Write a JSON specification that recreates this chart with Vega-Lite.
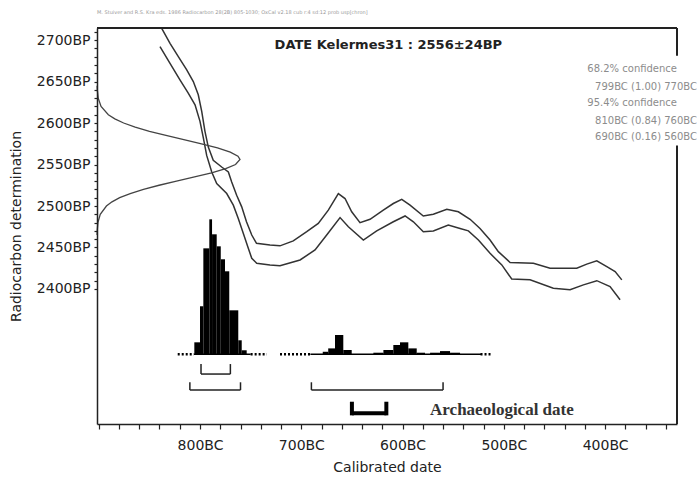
{
  "$schema": "https://vega.github.io/schema/vega-lite/v6.json",
  "width": 580,
  "height": 396,
  "autosize": {"type": "none"},
  "padding": {"left": 97, "top": 28, "right": 23, "bottom": 54},
  "background": "white",
  "title": {
    "text": "M. Stuiver and R.S. Kra eds. 1986 Radiocarbon 28(2B) 805-1030; OxCal v2.18 cub r:4 sd:12 prob usp[chron]",
    "anchor": "start",
    "frame": "group",
    "fontSize": 5,
    "fontWeight": "normal",
    "color": "#9a9a9a",
    "offset": 10
  },
  "config": {
    "view": {"stroke": null},
    "font": "DejaVu Sans",
    "axis": {
      "grid": false,
      "zindex": 1,
      "domainColor": "#222",
      "domainWidth": 1.5,
      "tickColor": "#222",
      "tickWidth": 1.2,
      "labelFontSize": 14,
      "labelColor": "#222",
      "labelFlush": false,
      "labelOverlap": false,
      "titleFontSize": 14,
      "titleFontWeight": "normal",
      "titleColor": "#222"
    }
  },
  "datasets": {
    "curve": [
      {"bound": "upper", "bc": 837.8, "bp": 2714}, {"bound": "upper", "bc": 829.6, "bp": 2696}, {"bound": "upper", "bc": 821.4, "bp": 2680},
      {"bound": "upper", "bc": 813.1, "bp": 2664}, {"bound": "upper", "bc": 806.6, "bp": 2650}, {"bound": "upper", "bc": 801.7, "bp": 2634},
      {"bound": "upper", "bc": 798.3, "bp": 2614}, {"bound": "upper", "bc": 795.1, "bp": 2590}, {"bound": "upper", "bc": 791.8, "bp": 2571},
      {"bound": "upper", "bc": 786.9, "bp": 2555}, {"bound": "upper", "bc": 778.6, "bp": 2547}, {"bound": "upper", "bc": 772.0, "bp": 2541},
      {"bound": "upper", "bc": 768.7, "bp": 2529}, {"bound": "upper", "bc": 763.8, "bp": 2513}, {"bound": "upper", "bc": 758.8, "bp": 2499},
      {"bound": "upper", "bc": 754.1, "bp": 2481}, {"bound": "upper", "bc": 748.9, "bp": 2465}, {"bound": "upper", "bc": 744.2, "bp": 2455},
      {"bound": "upper", "bc": 730.9, "bp": 2453}, {"bound": "upper", "bc": 721.0, "bp": 2452}, {"bound": "upper", "bc": 707.9, "bp": 2458},
      {"bound": "upper", "bc": 694.6, "bp": 2469}, {"bound": "upper", "bc": 683.2, "bp": 2479}, {"bound": "upper", "bc": 673.3, "bp": 2495},
      {"bound": "upper", "bc": 663.4, "bp": 2515}, {"bound": "upper", "bc": 656.8, "bp": 2509}, {"bound": "upper", "bc": 650.2, "bp": 2493},
      {"bound": "upper", "bc": 642.0, "bp": 2480}, {"bound": "upper", "bc": 632.1, "bp": 2484}, {"bound": "upper", "bc": 619.0, "bp": 2495},
      {"bound": "upper", "bc": 609.1, "bp": 2503}, {"bound": "upper", "bc": 600.8, "bp": 2508}, {"bound": "upper", "bc": 592.6, "bp": 2501},
      {"bound": "upper", "bc": 579.5, "bp": 2488}, {"bound": "upper", "bc": 569.6, "bp": 2490}, {"bound": "upper", "bc": 556.3, "bp": 2496},
      {"bound": "upper", "bc": 544.9, "bp": 2493}, {"bound": "upper", "bc": 533.3, "bp": 2484}, {"bound": "upper", "bc": 523.5, "bp": 2473},
      {"bound": "upper", "bc": 513.6, "bp": 2459}, {"bound": "upper", "bc": 505.4, "bp": 2445}, {"bound": "upper", "bc": 493.8, "bp": 2432},
      {"bound": "upper", "bc": 470.8, "bp": 2431}, {"bound": "upper", "bc": 454.3, "bp": 2425}, {"bound": "upper", "bc": 428.0, "bp": 2425},
      {"bound": "upper", "bc": 418.1, "bp": 2430}, {"bound": "upper", "bc": 408.2, "bp": 2434}, {"bound": "upper", "bc": 398.3, "bp": 2427},
      {"bound": "upper", "bc": 390.1, "bp": 2421}, {"bound": "upper", "bc": 383.5, "bp": 2411},
      {"bound": "lower", "bc": 839.5, "bp": 2692}, {"bound": "lower", "bc": 829.6, "bp": 2672}, {"bound": "lower", "bc": 819.8, "bp": 2652},
      {"bound": "lower", "bc": 811.6, "bp": 2636}, {"bound": "lower", "bc": 804.9, "bp": 2622}, {"bound": "lower", "bc": 800.0, "bp": 2602},
      {"bound": "lower", "bc": 796.7, "bp": 2582}, {"bound": "lower", "bc": 793.4, "bp": 2561}, {"bound": "lower", "bc": 788.4, "bp": 2541},
      {"bound": "lower", "bc": 783.5, "bp": 2527}, {"bound": "lower", "bc": 773.6, "bp": 2515}, {"bound": "lower", "bc": 767.1, "bp": 2501},
      {"bound": "lower", "bc": 762.2, "bp": 2485}, {"bound": "lower", "bc": 757.2, "bp": 2467}, {"bound": "lower", "bc": 752.3, "bp": 2449},
      {"bound": "lower", "bc": 748.9, "bp": 2437}, {"bound": "lower", "bc": 744.0, "bp": 2431}, {"bound": "lower", "bc": 730.9, "bp": 2429},
      {"bound": "lower", "bc": 721.0, "bp": 2428}, {"bound": "lower", "bc": 701.2, "bp": 2435}, {"bound": "lower", "bc": 686.4, "bp": 2447},
      {"bound": "lower", "bc": 674.9, "bp": 2465}, {"bound": "lower", "bc": 661.7, "bp": 2486}, {"bound": "lower", "bc": 653.5, "bp": 2475},
      {"bound": "lower", "bc": 638.7, "bp": 2459}, {"bound": "lower", "bc": 625.5, "bp": 2470}, {"bound": "lower", "bc": 609.1, "bp": 2481},
      {"bound": "lower", "bc": 597.5, "bp": 2488}, {"bound": "lower", "bc": 589.3, "bp": 2481}, {"bound": "lower", "bc": 579.5, "bp": 2469},
      {"bound": "lower", "bc": 569.6, "bp": 2470}, {"bound": "lower", "bc": 554.8, "bp": 2477}, {"bound": "lower", "bc": 543.2, "bp": 2473},
      {"bound": "lower", "bc": 535.0, "bp": 2470}, {"bound": "lower", "bc": 525.1, "bp": 2459}, {"bound": "lower", "bc": 513.6, "bp": 2443},
      {"bound": "lower", "bc": 502.0, "bp": 2429}, {"bound": "lower", "bc": 492.2, "bp": 2412}, {"bound": "lower", "bc": 474.1, "bp": 2411},
      {"bound": "lower", "bc": 451.1, "bp": 2401}, {"bound": "lower", "bc": 434.6, "bp": 2399}, {"bound": "lower", "bc": 421.4, "bp": 2405},
      {"bound": "lower", "bc": 408.2, "bp": 2410}, {"bound": "lower", "bc": 395.1, "bp": 2403}, {"bound": "lower", "bc": 385.2, "bp": 2387}
    ],
    "measurement": [
      {"bp": 2645, "bc": 901.6}, {"bp": 2640, "bc": 901.4}, {"bp": 2630, "bc": 900.5}, {"bp": 2620, "bc": 897.7},
      {"bp": 2610, "bc": 890.5}, {"bp": 2605, "bc": 884.1}, {"bp": 2600, "bc": 875.4}, {"bp": 2595, "bc": 864.0},
      {"bp": 2590, "bc": 849.9}, {"bp": 2585, "bc": 833.6}, {"bp": 2580, "bc": 816.0}, {"bp": 2575, "bc": 798.5},
      {"bp": 2570, "bc": 782.7}, {"bp": 2565, "bc": 770.1}, {"bp": 2560, "bc": 762.5}, {"bp": 2556, "bc": 760.5},
      {"bp": 2550, "bc": 764.9}, {"bp": 2545, "bc": 774.6}, {"bp": 2540, "bc": 788.6}, {"bp": 2535, "bc": 805.4},
      {"bp": 2530, "bc": 823.2}, {"bp": 2525, "bc": 840.4}, {"bp": 2520, "bc": 855.8}, {"bp": 2515, "bc": 868.9},
      {"bp": 2510, "bc": 879.3}, {"bp": 2505, "bc": 886.9}, {"bp": 2500, "bc": 892.4}, {"bp": 2490, "bc": 898.5},
      {"bp": 2480, "bc": 900.8}, {"bp": 2470, "bc": 901.5}, {"bp": 2465, "bc": 901.6}
    ],
    "calibrated": [
      {"from": 805.6, "to": 800.0, "p": 0.089}, {"from": 800.0, "to": 796.7, "p": 0.356}, {"from": 796.7, "to": 790.8, "p": 0.785},
      {"from": 790.8, "to": 788.1, "p": 1.0}, {"from": 788.1, "to": 783.5, "p": 0.889}, {"from": 783.5, "to": 779.5, "p": 0.8},
      {"from": 779.5, "to": 775.3, "p": 0.704}, {"from": 775.3, "to": 771.1, "p": 0.615}, {"from": 771.1, "to": 762.2, "p": 0.326},
      {"from": 762.2, "to": 758.8, "p": 0.104}, {"from": 758.8, "to": 753.9, "p": 0.03},
      {"from": 678.8, "to": 673.4, "p": 0.019}, {"from": 673.4, "to": 666.7, "p": 0.044}, {"from": 666.7, "to": 658.5, "p": 0.143},
      {"from": 658.5, "to": 650.2, "p": 0.032},
      {"from": 628.8, "to": 618.9, "p": 0.012}, {"from": 618.9, "to": 609.1, "p": 0.032}, {"from": 609.1, "to": 602.5, "p": 0.069},
      {"from": 602.5, "to": 594.3, "p": 0.089}, {"from": 594.3, "to": 586.0, "p": 0.044}, {"from": 586.0, "to": 577.8, "p": 0.012},
      {"from": 572.8, "to": 563.0, "p": 0.012}, {"from": 563.0, "to": 553.1, "p": 0.024}, {"from": 553.1, "to": 543.2, "p": 0.012}
    ],
    "baseline": [
      {"from": 822, "to": 806, "style": "dotted"},
      {"from": 806, "to": 750, "style": "solid"},
      {"from": 750, "to": 734, "style": "dotted"},
      {"from": 721, "to": 691, "style": "dotted"},
      {"from": 691, "to": 522, "style": "solid"},
      {"from": 523, "to": 513, "style": "dotted"}
    ],
    "ranges": [
      {"level": "68.2%", "from": 799, "to": 770},
      {"level": "95.4%", "from": 810, "to": 760},
      {"level": "95.4%", "from": 690, "to": 560}
    ],
    "archaeological": [
      {"from": 650, "to": 616}
    ]
  },
  "layer": [
    {
      "layer": [
        {
          "data": {"name": "curve"},
          "mark": {"type": "line", "stroke": "#333", "strokeWidth": 1.5, "interpolate": "linear"},
          "encoding": {
            "x": {
              "field": "bc", "type": "quantitative", "title": "Calibrated date",
              "scale": {"domain": [329, 901.7], "reverse": true, "nice": false, "zero": false},
              "axis": {
                "values": [900, 880, 860, 840, 820, 800, 780, 760, 740, 720, 700, 680, 660, 640, 620, 600, 580, 560, 540, 520, 500, 480, 460, 440, 420, 400, 380, 360, 340],
                "tickCount": 200,
                "labelExpr": "datum.value % 100 === 0 && datum.value < 900 ? datum.value + 'BC' : ''",
                "labelOverlap": false,
                "zindex": 1,
                "tickSize": 5,
                "labelPadding": 9,
                "titlePadding": 8
              }
            },
            "y": {
              "field": "bp", "type": "quantitative", "title": "Radiocarbon determination",
              "scale": {"domain": [2237.3, 2714.5], "nice": false, "zero": false},
              "axis": {
                "values": [2400, 2410, 2420, 2430, 2440, 2450, 2460, 2470, 2480, 2490, 2500, 2510, 2520, 2530, 2540, 2550, 2560, 2570, 2580, 2590, 2600, 2610, 2620, 2630, 2640, 2650, 2660, 2670, 2680, 2690, 2700, 2710],
                "tickCount": 200,
                "labelExpr": "datum.value % 50 === 0 ? datum.value + 'BP' : ''",
                "labelOverlap": false,
                "zindex": 1,
                "tickSize": 3,
                "labelPadding": 4,
                "titlePadding": 13
              }
            },
            "detail": {"field": "bound"}
          }
        },
        {
          "data": {"name": "measurement"},
          "mark": {"type": "line", "stroke": "#444", "strokeWidth": 1.3},
          "encoding": {
            "x": {"field": "bc", "type": "quantitative", "title": "Calibrated date"},
            "y": {"field": "bp", "type": "quantitative", "title": "Radiocarbon determination"},
            "order": {"field": "bp", "sort": "descending"}
          }
        },
        {
          "data": {"values": [{}]},
          "mark": {"type": "rule", "stroke": "#222", "strokeWidth": 2},
          "encoding": {
            "x": {"datum": 901.7, "type": "quantitative"},
            "x2": {"datum": 329},
            "y": {"datum": 2714.5, "type": "quantitative"}
          }
        },
        {
          "data": {"values": [{"top": 2714.5, "bottom": 2681}, {"top": 2573, "bottom": 2237.3}]},
          "mark": {"type": "rule", "stroke": "#222", "strokeWidth": 2},
          "encoding": {
            "x": {"datum": 329, "type": "quantitative"},
            "y": {"field": "top", "type": "quantitative", "title": "Radiocarbon determination"},
            "y2": {"field": "bottom"}
          }
        },
        {
          "data": {"values": [{}]},
          "mark": {"type": "text", "fontWeight": "bold", "fontSize": 13, "color": "#222", "align": "center", "baseline": "middle"},
          "encoding": {
            "x": {"datum": 614, "type": "quantitative"},
            "y": {"datum": 2694, "type": "quantitative"},
            "text": {"value": "DATE Kelermes31 : 2556±24BP"}
          }
        },
        {
          "data": {"values": [{}]},
          "mark": {"type": "text", "fontSize": 10, "color": "#8c8c8c", "align": "right", "baseline": "middle"},
          "encoding": {
            "x": {"datum": 329, "type": "quantitative"},
            "y": {"datum": 2665, "type": "quantitative"},
            "text": {"value": "68.2% confidence"}
          }
        },
        {
          "data": {"values": [{}]},
          "mark": {"type": "text", "fontSize": 10, "color": "#8c8c8c", "align": "right", "baseline": "middle", "dx": 20},
          "encoding": {
            "x": {"datum": 329, "type": "quantitative"},
            "y": {"datum": 2643, "type": "quantitative"},
            "text": {"value": "799BC (1.00) 770BC"}
          }
        },
        {
          "data": {"values": [{}]},
          "mark": {"type": "text", "fontSize": 10, "color": "#8c8c8c", "align": "right", "baseline": "middle"},
          "encoding": {
            "x": {"datum": 329, "type": "quantitative"},
            "y": {"datum": 2624, "type": "quantitative"},
            "text": {"value": "95.4% confidence"}
          }
        },
        {
          "data": {"values": [{}]},
          "mark": {"type": "text", "fontSize": 10, "color": "#8c8c8c", "align": "right", "baseline": "middle", "dx": 20},
          "encoding": {
            "x": {"datum": 329, "type": "quantitative"},
            "y": {"datum": 2603, "type": "quantitative"},
            "text": {"value": "810BC (0.84) 760BC"}
          }
        },
        {
          "data": {"values": [{}]},
          "mark": {"type": "text", "fontSize": 10, "color": "#8c8c8c", "align": "right", "baseline": "middle", "dx": 20},
          "encoding": {
            "x": {"datum": 329, "type": "quantitative"},
            "y": {"datum": 2583, "type": "quantitative"},
            "text": {"value": "690BC (0.16) 560BC"}
          }
        }
      ]
    },
    {
      "layer": [
        {
          "data": {"name": "calibrated"},
          "mark": {"type": "rect", "fill": "black", "strokeWidth": 0},
          "encoding": {
            "x": {"field": "from", "type": "quantitative", "title": "Calibrated date"},
            "x2": {"field": "to"},
            "y": {"field": "p", "type": "quantitative", "axis": null, "scale": {"domain": [-0.516, 2.417], "nice": false, "zero": false}},
            "y2": {"datum": 0}
          }
        },
        {
          "data": {"name": "baseline"},
          "transform": [{"filter": "datum.style === 'solid'"}],
          "mark": {"type": "rule", "stroke": "black", "strokeWidth": 1.5},
          "encoding": {
            "x": {"field": "from", "type": "quantitative", "title": "Calibrated date"},
            "x2": {"field": "to"},
            "y": {"datum": 0, "type": "quantitative", "axis": null}
          }
        },
        {
          "data": {"name": "baseline"},
          "transform": [{"filter": "datum.style === 'dotted'"}],
          "mark": {"type": "rule", "stroke": "black", "strokeWidth": 2.5, "strokeDash": [2, 2]},
          "encoding": {
            "x": {"field": "from", "type": "quantitative", "title": "Calibrated date"},
            "x2": {"field": "to"},
            "y": {"datum": 0, "type": "quantitative", "axis": null}
          }
        },
        {
          "data": {"name": "ranges"},
          "transform": [{"filter": "datum.level === '68.2%'"}],
          "mark": {"type": "rule", "stroke": "#222", "strokeWidth": 1.5},
          "encoding": {
            "x": {"field": "from", "type": "quantitative", "title": "Calibrated date"},
            "x2": {"field": "to"},
            "y": {"datum": -0.146, "type": "quantitative", "axis": null}
          }
        },
        {
          "data": {"name": "ranges"},
          "transform": [{"filter": "datum.level === '68.2%'"}, {"fold": ["from", "to"], "as": ["end", "year"]}],
          "mark": {"type": "rule", "stroke": "#222", "strokeWidth": 1.5},
          "encoding": {
            "x": {"field": "year", "type": "quantitative", "title": "Calibrated date"},
            "y": {"datum": -0.146, "type": "quantitative", "axis": null},
            "y2": {"datum": -0.072}
          }
        },
        {
          "data": {"name": "ranges"},
          "transform": [{"filter": "datum.level === '95.4%'"}],
          "mark": {"type": "rule", "stroke": "#222", "strokeWidth": 1.5},
          "encoding": {
            "x": {"field": "from", "type": "quantitative", "title": "Calibrated date"},
            "x2": {"field": "to"},
            "y": {"datum": -0.264, "type": "quantitative", "axis": null}
          }
        },
        {
          "data": {"name": "ranges"},
          "transform": [{"filter": "datum.level === '95.4%'"}, {"fold": ["from", "to"], "as": ["end", "year"]}],
          "mark": {"type": "rule", "stroke": "#222", "strokeWidth": 1.5},
          "encoding": {
            "x": {"field": "year", "type": "quantitative", "title": "Calibrated date"},
            "y": {"datum": -0.264, "type": "quantitative", "axis": null},
            "y2": {"datum": -0.207}
          }
        },
        {
          "data": {"name": "archaeological"},
          "mark": {"type": "rule", "stroke": "black", "strokeWidth": 4},
          "encoding": {
            "x": {"field": "from", "type": "quantitative", "title": "Calibrated date"},
            "x2": {"field": "to"},
            "y": {"datum": -0.437, "type": "quantitative", "axis": null}
          }
        },
        {
          "data": {"name": "archaeological"},
          "transform": [{"fold": ["from", "to"], "as": ["end", "year"]}],
          "mark": {"type": "rule", "stroke": "black", "strokeWidth": 4},
          "encoding": {
            "x": {"field": "year", "type": "quantitative", "title": "Calibrated date"},
            "y": {"datum": -0.452, "type": "quantitative", "axis": null},
            "y2": {"datum": -0.351}
          }
        },
        {
          "data": {"values": [{}]},
          "mark": {"type": "text", "font": "Liberation Serif", "fontWeight": "bold", "fontSize": 17, "color": "#333", "align": "left", "baseline": "middle"},
          "encoding": {
            "x": {"datum": 572.8, "type": "quantitative"},
            "y": {"datum": -0.413, "type": "quantitative", "axis": null},
            "text": {"value": "Archaeological date"}
          }
        }
      ]
    }
  ],
  "resolve": {"scale": {"y": "independent"}, "axis": {"y": "independent"}}
}
